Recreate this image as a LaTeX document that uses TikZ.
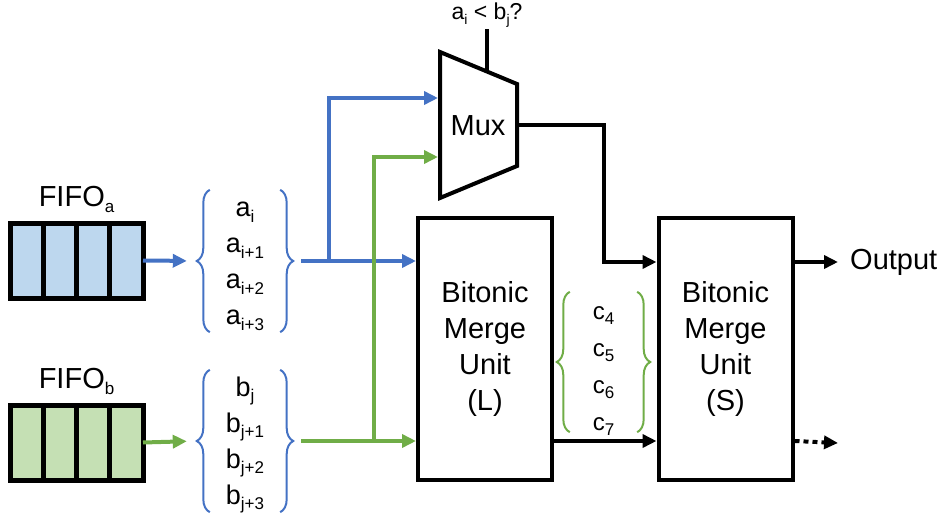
\documentclass[tikz,border=0pt]{standalone}
\usepackage{fontspec}
\setmainfont{Liberation Sans}
\usetikzlibrary{arrows.meta, positioning, calc, decorations.pathreplacing}
\definecolor{bmInk}{HTML}{000000}
\definecolor{bmBlue}{HTML}{4472C4}
\definecolor{bmGreen}{HTML}{70AD47}
\definecolor{bmBlueFill}{HTML}{BDD7EE}
\definecolor{bmGreenFill}{HTML}{C5E0B4}
\newcommand{\bmsub}[2][17]{\raisebox{-0.22em}{\fontsize{#1}{#1}\selectfont #2}}
\newcommand{\bmbig}{\fontsize{29}{36}\selectfont}
\tikzset{
  bmbox/.style={
    draw=bmInk, line width=4pt, fill=white, minimum width=134pt,
    minimum height=262pt, align=center, font=\bmbig, inner sep=0pt,
  },
  bmfifo/.style={
    draw=bmInk, fill=#1, line width=5pt, minimum width=133pt,
    minimum height=75pt, inner sep=0pt, outer sep=0pt,
  },
  bmcol/.style={
    minimum width=70pt, minimum height=142pt, align=center, inner sep=0pt,
    font=\fontsize{27}{36}\selectfont,
  },
  bmbrace/.style={
    draw=#1, line width=2pt, decorate, decoration={brace, amplitude=13pt},
  },
  bmarrow/.style={
    -{Triangle[length=14pt, width=13pt]}, draw=#1, line width=4pt,
  },
  bmarrow/.default=bmInk,
  bmlabel/.style={font=\bmbig, inner sep=2pt},
}

\begin{document}
\begin{tikzpicture}[x=1pt, y=-1pt]
\useasboundingbox (0,0) rectangle (946,514);

% Queues ------------------------------------------------------------------
\node[bmfifo=bmBlueFill] (fa) at (76.5,260.5) {};
\node[bmfifo=bmGreenFill] (fb) at (76.5,442.5) {};
\foreach \f in {fa, fb}{%
  \foreach \k in {1,2,3}{%
    \draw[line width=5pt] ($(\f.north west)!\k/4!(\f.north east)$) --
      ($(\f.south west)!\k/4!(\f.south east)$);
  }
}
\node[bmlabel, above=8pt of fa] (la) {FIFO\bmsub{a}};
\node[bmlabel, above=8pt of fb] (lb) {FIFO\bmsub{b}};

% Head elements -----------------------------------------------------------
% text sits a little below the middle of its brace
\node[bmcol] (ta) at (245,266) {a\bmsub{i}\\a\bmsub{i+1}\\a\bmsub{i+2}\\a\bmsub{i+3}};
\node[bmcol] (tb) at (245,445) {b\bmsub{j}\\b\bmsub{j+1}\\b\bmsub{j+2}\\b\bmsub{j+3}};
\node[bmcol, minimum width=67pt, minimum height=140pt,
  font=\fontsize{24}{37}\selectfont] (tc) at (603.5,371)
  {c\bmsub{4}\\c\bmsub{5}\\c\bmsub{6}\\c\bmsub{7}};
\foreach \t/\c/\s in {ta/bmBlue/5, tb/bmBlue/4, tc/bmGreen/9}{%
  \draw[bmbrace=\c] ([yshift=\s pt]\t.south west) -- ([yshift=\s pt]\t.north west);
  \draw[bmbrace=\c] ([yshift=\s pt]\t.north east) -- ([yshift=\s pt]\t.south east);
}
\coordinate (taL) at ([xshift=-13pt, yshift=5pt]ta.west);
\coordinate (taR) at ([xshift=13pt, yshift=5pt]ta.east);
\coordinate (tbL) at ([xshift=-13pt, yshift=4pt]tb.west);
\coordinate (tbR) at ([xshift=13pt, yshift=4pt]tb.east);

% Mux ---------------------------------------------------------------------
\coordinate (mTL) at (440,52);
\coordinate (mTR) at (517,84);
\coordinate (mBR) at (517,166);
\coordinate (mBL) at (440,198);
\draw[line width=4pt] (mTL) -- (mTR) -- (mBR) -- (mBL) -- cycle;
\node[bmlabel] (mux) at (478,126) {Mux};
\coordinate (muxOut) at ($(mTR)!0.5!(mBR)$);
\coordinate (muxA) at (438,98);
\coordinate (muxB) at (438,157);
\coordinate (sel) at ($(mTL)!0.61!(mTR)$);
\node[font=\fontsize{23}{23}\selectfont, inner sep=1pt] (cmp) at (487,15)
  {a\bmsub[14]{i} < b\bmsub[14]{j}?};
\draw[line width=4pt] (sel) -- (sel |- cmp.south);

% Merge units -------------------------------------------------------------
\node[bmbox] (bml) at (485,349) {Bitonic\\Merge\\Unit\\(L)};
\node[bmbox] (bms) at (725.5,349) {Bitonic\\Merge\\Unit\\(S)};
\node[bmlabel, anchor=west, inner xsep=12pt] (out) at (838,262) {Output};
\coordinate (more) at (838,443);

% Flow --------------------------------------------------------------------
\draw[bmarrow=bmBlue, shorten >=10pt] (fa.east) -- (taL);
\draw[bmarrow=bmGreen, shorten >=10pt] (fb.east) -- (tbL);
\coordinate (ja) at ($(taR)+(36,0)$);
\coordinate (jb) at ($(tbR)+(81,0)$);
\draw[bmarrow=bmBlue, shorten <=8pt] (taR) -- (bml.west |- taR);
\draw[bmarrow=bmBlue] (ja) |- (muxA);
\draw[bmarrow=bmGreen, shorten <=8pt] (tbR) -- (bml.west |- tbR);
\draw[bmarrow=bmGreen] (jb) |- (muxB);
\draw[bmarrow] (muxOut) -| (tc.north |- out.west) -- (bms.west |- out.west);
\draw[bmarrow] (bml.east |- tbR) -- (bms.west |- tbR);
\draw[bmarrow] (bms.east |- out.west) -- (out.west);
\draw[bmarrow, dash pattern=on 5pt off 4pt] (bms.east |- tbR) -- (more);

\end{tikzpicture}
\end{document}
